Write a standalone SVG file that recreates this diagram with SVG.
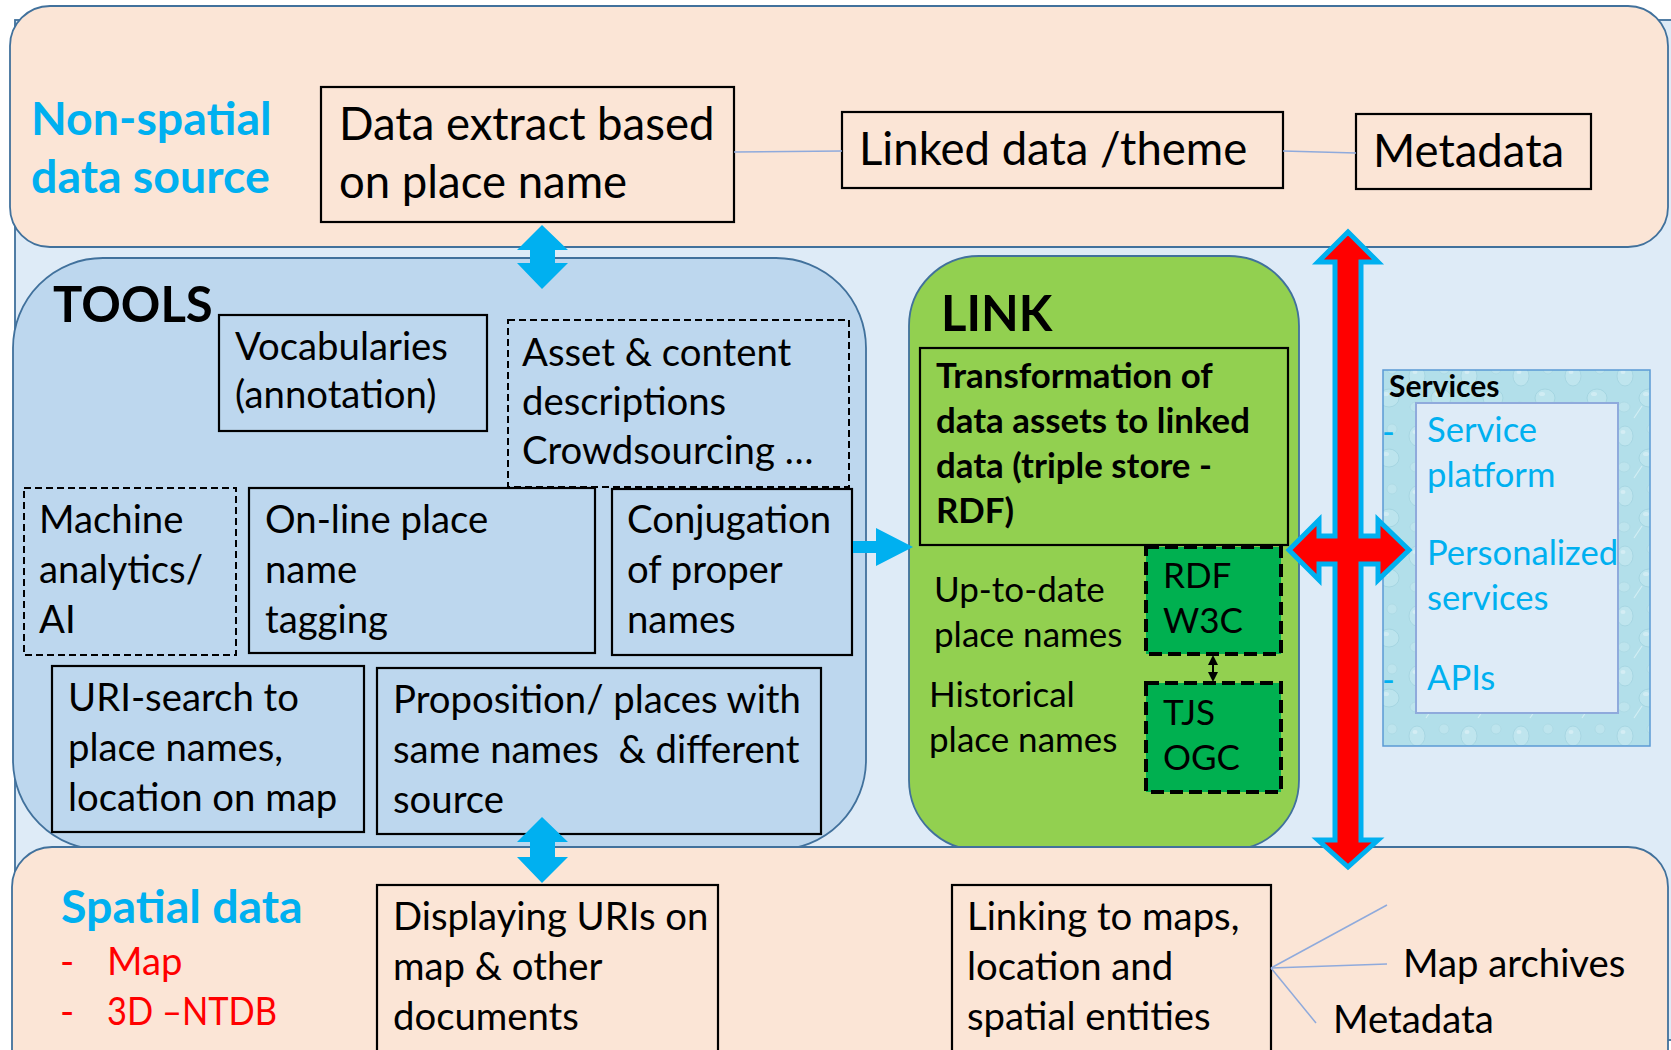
<svg xmlns="http://www.w3.org/2000/svg" width="1671" height="1050" viewBox="0 0 1671 1050">
  <defs>
    <style>
      .panel { stroke: #41719C; stroke-width: 1.8; }
      .box { fill: none; stroke: #000; stroke-width: 2.2; }
      .dbox { fill: none; stroke: #000; stroke-width: 2; stroke-dasharray: 7 4; }
      .gbox { fill: #00B050; stroke: #000; stroke-width: 4; stroke-dasharray: 13 6; }
      .t { font-family: Lato, "Liberation Sans", sans-serif; fill: #000; }
      .big { font-size: 45.5px; }
      .mid { font-size: 38.3px; }
      .small { font-size: 35px; }
      .head { font-size: 46.5px; font-weight: bold; fill: #00B0F0; }
      .title { font-size: 49px; font-weight: bold; }
      .bold { font-size: 34.8px; font-weight: bold; }
      .svc { font-size: 34.6px; fill: #00B0F0; }
      .red { fill: #FF0000; }
      .thin { stroke: #8FAADC; stroke-width: 1.5; fill: none; }
      .blueArrow { fill: #00B0F0; }
    </style>
    <!-- soft water-drop texture for the services frame -->
    <pattern id="drops" width="52" height="60" patternUnits="userSpaceOnUse">
      <rect width="52" height="60" fill="#B2DFEA"/>
      <ellipse cx="13" cy="16" rx="8" ry="10" fill="#BFE5EE" stroke="#A2D3DF" stroke-width="0.8"/>
      <ellipse cx="11" cy="12" rx="2.5" ry="2" fill="#DDF2F7" opacity="0.7"/>
      <ellipse cx="37" cy="38" rx="10" ry="9" fill="#BCE4ED" stroke="#A0D2DE" stroke-width="0.8"/>
      <ellipse cx="34" cy="34" rx="3" ry="2" fill="#DDF2F7" opacity="0.6"/>
      <ellipse cx="40" cy="9" rx="5" ry="5" fill="#BDE4ED" stroke="#A6D5E0" stroke-width="0.6"/>
      <ellipse cx="12" cy="47" rx="6" ry="5" fill="#BDE4ED" stroke="#A6D5E0" stroke-width="0.6"/>
      <path d="M22 58 L30 46" stroke="#D2EEF4" stroke-width="1.2"/>
    </pattern>
  </defs>

  <!-- backdrop frame -->
  <rect id="backdrop" x="15" y="20" width="1700" height="1020" fill="#DEEBF7" stroke="#41719C" stroke-width="1.8"/>

  <!-- non-spatial data source layer -->
  <g id="nonspatial">
    <rect class="panel" x="10" y="6" width="1658" height="241" rx="40" fill="#FBE5D6"/>
    <text class="t head" x="31" y="135">Non-spatial</text>
    <text class="t head" x="31" y="193">data source</text>
  </g>

  <!-- tools panel -->
  <g id="tools">
    <rect class="panel" x="13" y="258" width="853" height="592" rx="90" fill="#BDD7EE"/>
    <text class="t title" x="53" y="322">TOOLS</text>
  </g>

  <!-- link panel -->
  <g id="link">
    <rect class="panel" x="909" y="256" width="390" height="594" rx="70" fill="#92D050"/>
    <text class="t title" x="941" y="331">LINK</text>
  </g>

  <!-- spatial data layer -->
  <g id="spatial">
    <rect class="panel" x="12" y="847" width="1656" height="260" rx="40" fill="#FBE5D6"/>
    <text class="t head" x="61" y="923">Spatial data</text>
    <text class="t mid red" x="60" y="975">-</text>
    <text class="t mid red" x="107" y="975">Map</text>
    <text class="t mid red" x="60" y="1025">-</text>
    <text class="t mid red" x="107" y="1025" textLength="170" lengthAdjust="spacingAndGlyphs">3D –NTDB</text>
  </g>

  <!-- top row boxes -->
  <g id="data-extract">
    <rect class="box" x="321" y="87" width="413" height="135"/>
    <text class="t big" x="339" y="140">Data extract based</text>
    <text class="t big" x="339" y="198">on place name</text>
  </g>
  <g id="linked-data">
    <rect class="box" x="842" y="112" width="441" height="76"/>
    <text class="t big" x="859" y="165">Linked data /theme</text>
  </g>
  <g id="metadata-top">
    <rect class="box" x="1356" y="114" width="235" height="75"/>
    <text class="t big" x="1373" y="167">Metadata</text>
  </g>

  <!-- tool boxes -->
  <g id="vocabularies">
    <rect class="box" x="219" y="315" width="268" height="116"/>
    <text class="t mid" x="235" y="360">Vocabularies</text>
    <text class="t mid" x="235" y="408">(annotation)</text>
  </g>
  <g id="asset-content">
    <rect class="dbox" x="508" y="320" width="341" height="167"/>
    <text class="t mid" x="522" y="366">Asset &amp; content</text>
    <text class="t mid" x="522" y="415">descriptions</text>
    <text class="t mid" x="522" y="464">Crowdsourcing …</text>
  </g>
  <g id="machine-analytics">
    <rect class="dbox" x="24" y="488" width="212" height="167"/>
    <text class="t mid" x="39" y="533">Machine</text>
    <text class="t mid" x="39" y="583">analytics/</text>
    <text class="t mid" x="39" y="633">AI</text>
  </g>
  <g id="online-tagging">
    <rect class="box" x="249" y="488" width="346" height="165"/>
    <text class="t mid" x="265" y="533">On-line place</text>
    <text class="t mid" x="265" y="583">name</text>
    <text class="t mid" x="265" y="633">tagging</text>
  </g>
  <g id="conjugation">
    <rect class="box" x="612" y="489" width="240" height="166"/>
    <text class="t mid" x="627" y="533">Conjugation</text>
    <text class="t mid" x="627" y="583">of proper</text>
    <text class="t mid" x="627" y="633">names</text>
  </g>
  <g id="uri-search">
    <rect class="box" x="52" y="666" width="312" height="166"/>
    <text class="t mid" x="68" y="711">URI-search to</text>
    <text class="t mid" x="68" y="761">place names,</text>
    <text class="t mid" x="68" y="811">location on map</text>
  </g>
  <g id="proposition">
    <rect class="box" x="377" y="668" width="444" height="166"/>
    <text class="t mid" x="393" y="713">Proposition/ places with</text>
    <text class="t mid" x="393" y="763" xml:space="preserve">same names  &amp; different</text>
    <text class="t mid" x="393" y="813">source</text>
  </g>

  <!-- link contents -->
  <g id="transformation">
    <rect class="box" x="920" y="348" width="368" height="197"/>
    <text class="t bold" x="936" y="388">Transformation of</text>
    <text class="t bold" x="936" y="433">data assets to linked</text>
    <text class="t bold" x="936" y="478">data (triple store -</text>
    <text class="t bold" x="936" y="523">RDF)</text>
  </g>
  <g id="uptodate-names">
    <text class="t small" x="934" y="602">Up-to-date</text>
    <text class="t small" x="934" y="647">place names</text>
  </g>
  <g id="historical-names">
    <text class="t small" x="929" y="707">Historical</text>
    <text class="t small" x="929" y="752">place names</text>
  </g>
  <g id="rdf-w3c">
    <rect class="gbox" x="1146" y="547" width="135" height="107"/>
    <text class="t small" x="1163" y="588">RDF</text>
    <text class="t small" x="1163" y="633">W3C</text>
  </g>
  <g id="tjs-ogc">
    <rect class="gbox" x="1146" y="683" width="135" height="109"/>
    <text class="t small" x="1163" y="725">TJS</text>
    <text class="t small" x="1163" y="770">OGC</text>
  </g>

  <!-- services -->
  <g id="services">
    <rect x="1383" y="370" width="267" height="376" fill="url(#drops)" stroke="#5B9BD5" stroke-width="1.5"/>
    <rect x="1416" y="403" width="202" height="310" fill="#DEEBF7" stroke="#8FAADC" stroke-width="2"/>
    <text class="t" x="1389" y="397" font-size="30" font-weight="bold">Services</text>
    <text class="t svc" x="1382" y="444">-</text>
    <text class="t svc" x="1382" y="692">-</text>
    <text class="t svc" x="1427" y="442">Service</text>
    <text class="t svc" x="1427" y="487">platform</text>
    <text class="t svc" x="1427" y="565">Personalized</text>
    <text class="t svc" x="1427" y="610">services</text>
    <text class="t svc" x="1427" y="690">APIs</text>
  </g>

  <!-- bottom boxes -->
  <g id="displaying-uris">
    <rect class="box" x="377" y="885" width="341" height="180"/>
    <text class="t mid" x="393" y="930">Displaying URIs on</text>
    <text class="t mid" x="393" y="980">map &amp; other</text>
    <text class="t mid" x="393" y="1030">documents</text>
  </g>
  <g id="linking-maps">
    <rect class="box" x="952" y="885" width="319" height="180"/>
    <text class="t mid" x="967" y="930">Linking to maps,</text>
    <text class="t mid" x="967" y="980">location and</text>
    <text class="t mid" x="967" y="1030">spatial entities</text>
  </g>
  <g id="map-archives">
    <text class="t mid" x="1403" y="977">Map archives</text>
  </g>
  <g id="metadata-bottom">
    <text class="t mid" x="1333" y="1033">Metadata</text>
  </g>

  <!-- connectors -->
  <g id="connectors">
    <path class="thin" d="M734 152 L842 151"/>
    <path class="thin" d="M1283 151 L1356 153"/>
    <path class="thin" d="M1271 968 L1387 905"/>
    <path class="thin" d="M1271 968 L1387 964"/>
    <path class="thin" d="M1271 968 L1316 1023"/>
    <!-- source layer <-> tools -->
    <polygon class="blueArrow" points="542,225 568,250 555,250 555,263 568,263 542,289 517,263 530,263 530,250 517,250"/>
    <!-- tools <-> spatial layer -->
    <polygon class="blueArrow" points="542,817 568,842 555,842 555,857 568,857 542,883 517,857 530,857 530,842 517,842"/>
    <!-- tools -> link -->
    <polygon class="blueArrow" points="853,541 876,541 876,528 913,547 876,566 876,553 853,553"/>
    <!-- RDF <-> TJS -->
    <path d="M1213 660 V677" stroke="#000" stroke-width="2"/>
    <polygon points="1213,655 1218,665 1208,665" fill="#000"/>
    <polygon points="1213,682 1218,672 1208,672" fill="#000"/>
    <!-- link <-> services cross arrow -->
    <polygon points="1348,232 1378,262 1361,262 1361,536 1378,536 1378,520 1409,550 1378,580 1378,564 1361,564 1361,840 1378,840 1348,867 1318,840 1335,840 1335,564 1319,564 1319,580 1289,550 1319,520 1319,536 1335,536 1335,262 1318,262" fill="#FF0000" stroke="#00B0F0" stroke-width="5" stroke-linejoin="miter"/>
  </g>
</svg>
